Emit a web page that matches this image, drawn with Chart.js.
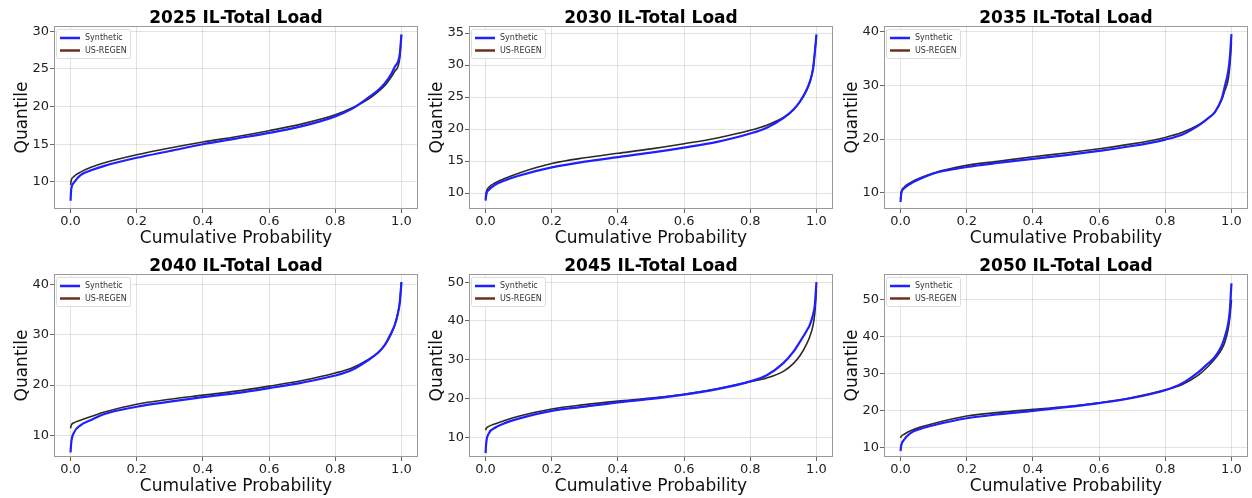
<!DOCTYPE html>
<html>
<head>
<meta charset="UTF-8">
<script src="https://cdn.jsdelivr.net/npm/chart.js@4.4.1/dist/chart.umd.min.js"></script>
<style>
*{margin:0;padding:0;box-sizing:border-box}
body{background:#fff;width:1252px;height:498px;overflow:hidden;font-family:'DejaVu Sans',sans-serif}
#wrap{position:relative;width:1252px;height:498px}
.cell{position:absolute;width:420px;height:248px}
</style>
</head>
<body>
<div id="wrap"></div>
<script>
// cumulative probability grid (x) shared by all panels
const probs=[0,0.002,0.01,0.03,0.06,0.1,0.2,0.3,0.4,0.5,0.6,0.7,0.8,0.85,0.9,0.93,0.95,0.97,0.98,0.99,0.995,1];

// quantiles
const syn2025=[7.5,9.0,9.9,10.9,11.5,12.1,13.2,14.1,15.0,15.75,16.5,17.4,18.7,19.7,21.2,22.2,23.1,24.4,25.3,26.0,27.0,29.6];
const reg2025=[9.6,10.2,10.7,11.3,11.9,12.5,13.6,14.5,15.3,16.0,16.8,17.7,18.9,19.8,21.0,22.0,22.8,24.0,24.7,25.4,26.5,29.5];
const syn2030=[8.8,9.7,10.5,11.3,12.0,12.7,14.0,14.9,15.6,16.3,17.1,18.0,19.3,20.2,21.7,23.0,24.3,26.1,27.4,29.5,31.9,34.8];
const reg2030=[9.3,10.1,10.9,11.6,12.3,13.1,14.6,15.5,16.2,16.9,17.7,18.6,19.8,20.6,21.8,23.0,24.2,26.0,27.3,29.5,32.0,34.5];
const syn2035=[8.3,9.8,10.8,11.7,12.6,13.6,14.8,15.6,16.3,17.0,17.8,18.7,19.9,20.8,22.5,23.9,25.0,27.4,29.8,32.5,35.0,39.5];
const reg2035=[8.8,10.1,11.0,11.9,12.8,13.7,15.1,15.9,16.7,17.4,18.2,19.1,20.3,21.2,22.6,23.9,25.0,27.2,29.0,31.0,33.5,38.0];
const syn2040=[6.6,8.5,10.5,12.0,13.0,14.2,15.7,16.7,17.6,18.4,19.4,20.5,21.9,23.0,25.0,26.5,28.0,30.5,32.0,34.5,36.5,40.5];
const reg2040=[11.4,12.0,12.5,13.0,13.7,14.6,16.2,17.2,18.0,18.8,19.8,20.9,22.4,23.4,25.1,26.5,28.0,30.3,32.0,34.5,36.5,40.5];
const syn2045=[5.9,8.5,11.0,12.5,13.7,14.8,16.8,17.9,19.0,19.9,21.0,22.4,24.4,26.0,29.1,32.0,34.6,37.4,39.0,41.7,44.0,50.0];
const reg2045=[11.8,12.3,12.8,13.5,14.4,15.4,17.3,18.4,19.3,20.1,21.1,22.5,24.3,25.3,27.0,29.0,31.0,34.0,36.0,39.0,42.0,48.0];
const syn2050=[9.0,10.5,12.0,13.9,15.0,16.0,17.9,19.0,19.9,20.9,22.0,23.4,25.5,27.3,30.4,32.8,34.5,37.5,40.0,43.5,47.0,54.5];
const reg2050=[12.6,13.0,13.5,14.5,15.5,16.5,18.5,19.5,20.3,21.1,22.1,23.5,25.6,27.0,29.6,32.0,34.0,36.5,38.5,42.0,45.0,50.0];

// panel titles, axis ranges and tick values
const years=['2025','2030','2035','2040','2045','2050'];
const synSeries=[syn2025,syn2030,syn2035,syn2040,syn2045,syn2050];
const regSeries=[reg2025,reg2030,reg2035,reg2040,reg2045,reg2050];
const yMins=[6.4,7.5,7.0,5.7,4.9,7.4];
const yMaxs=[30.7,36.1,41.0,42.1,52.1,57.0];
const yTicks=[[10,15,20,25,30],[10,15,20,25,30,35],[10,20,30,40],[10,20,30,40],[10,20,30,40,50],[10,20,30,40,50]];
const xTicks=[0,0.2,0.4,0.6,0.8,1.0];

const FONT="'DejaVu Sans', sans-serif";
const SYN_COLOR='#1f1fff';
const REG_COLOR='#2e2922';
const REG_LEGEND='#6e2f1f';

// box round the plot area (all four spines)
const framePlugin={
  id:'frame',
  afterDatasetsDraw(chart){
    const a=chart.chartArea,ctx=chart.ctx;
    ctx.save();
    ctx.strokeStyle='#9a9a9a';ctx.lineWidth=1;
    ctx.strokeRect(Math.round(a.left)+0.5,Math.round(a.top)+0.5,Math.round(a.right-a.left)-1,Math.round(a.bottom-a.top)-1);
    ctx.restore();
  }
};

// small legend in the upper left corner, like matplotlib's
const cornerLegend={
  id:'cornerLegend',
  afterDraw(chart){
    const a=chart.chartArea,ctx=chart.ctx;
    const x0=a.left+2,y0=a.top+3;
    ctx.save();
    ctx.fillStyle='rgba(255,255,255,0.85)';
    ctx.strokeStyle='#dddddd';ctx.lineWidth=1;
    ctx.beginPath();
    ctx.roundRect(x0+0.5,y0+0.5,74,29,2);
    ctx.fill();ctx.stroke();
    ctx.font='8px '+FONT;ctx.textBaseline='middle';
    chart.data.datasets.forEach((ds,i)=>{
      const y=y0+9+i*12.5;
      ctx.strokeStyle=ds.legendColor||ds.borderColor;ctx.lineWidth=2.5;
      ctx.beginPath();ctx.moveTo(x0+4,y);ctx.lineTo(x0+24,y);ctx.stroke();
      ctx.fillStyle='#333';
      ctx.fillText(ds.label,x0+29,y);
    });
    ctx.restore();
  }
};

const wrap=document.getElementById('wrap');
const lefts=[0,415,830];
const tops=[0,248];

years.forEach((yr,k)=>{
  const cell=document.createElement('div');
  cell.className='cell';
  cell.style.left=lefts[k%3]+'px';
  cell.style.top=tops[Math.floor(k/3)]+'px';
  const cv=document.createElement('canvas');
  cv.width=420;cv.height=248;
  cell.appendChild(cv);
  wrap.appendChild(cell);

  const ticksY=yTicks[k];
  new Chart(cv,{
    type:'line',
    data:{datasets:[
      {label:'Synthetic',data:probs.map((p,i)=>({x:p,y:synSeries[k][i]})),borderColor:SYN_COLOR,borderWidth:2.2,pointRadius:0,cubicInterpolationMode:'monotone',legendColor:SYN_COLOR},
      {label:'US-REGEN',data:probs.map((p,i)=>({x:p,y:regSeries[k][i]})),borderColor:REG_COLOR,borderWidth:1.6,pointRadius:0,cubicInterpolationMode:'monotone',legendColor:REG_LEGEND}
    ]},
    options:{
      responsive:false,animation:false,
      layout:{padding:{left:0,right:2,top:0,bottom:0}},
      plugins:{
        legend:{display:false},tooltip:{enabled:false},
        title:{display:true,text:yr+' IL-Total Load',fullSize:false,color:'#000',
          font:{family:FONT,size:17,weight:'bold',lineHeight:1},padding:{top:10,bottom:-1}}
      },
      scales:{
        x:{type:'linear',min:-0.05,max:1.05,
          afterBuildTicks:s=>{s.ticks=xTicks.map(v=>({value:v}));},
          afterFit:s=>{s.height=39;s.paddingLeft=0;s.paddingRight=0;},
          ticks:{callback:v=>v.toFixed(1),font:{family:FONT,size:13},color:'#222',padding:1,maxRotation:0,autoSkip:false},
          grid:{color:'rgba(0,0,0,0.11)',tickColor:'#666',tickLength:4},
          border:{display:false},
          title:{display:true,text:'Cumulative Probability',color:'#111',font:{family:FONT,size:17,lineHeight:1},padding:{top:0,bottom:1}}
        },
        y:{type:'linear',min:yMins[k],max:yMaxs[k],
          afterBuildTicks:s=>{s.ticks=ticksY.map(v=>({value:v}));},
          afterFit:s=>{s.width=54;s.paddingTop=0;s.paddingBottom=0;},
          ticks:{callback:v=>String(v),font:{family:FONT,size:13},color:'#222',padding:1,autoSkip:false},
          grid:{color:'rgba(0,0,0,0.11)',tickColor:'#666',tickLength:4},
          border:{display:false},
          title:{display:true,text:'Quantile',color:'#111',font:{family:FONT,size:17,lineHeight:1},padding:{top:14,bottom:0}}
        }
      }
    },
    plugins:[framePlugin,cornerLegend]
  });
});
</script>
</body>
</html>
